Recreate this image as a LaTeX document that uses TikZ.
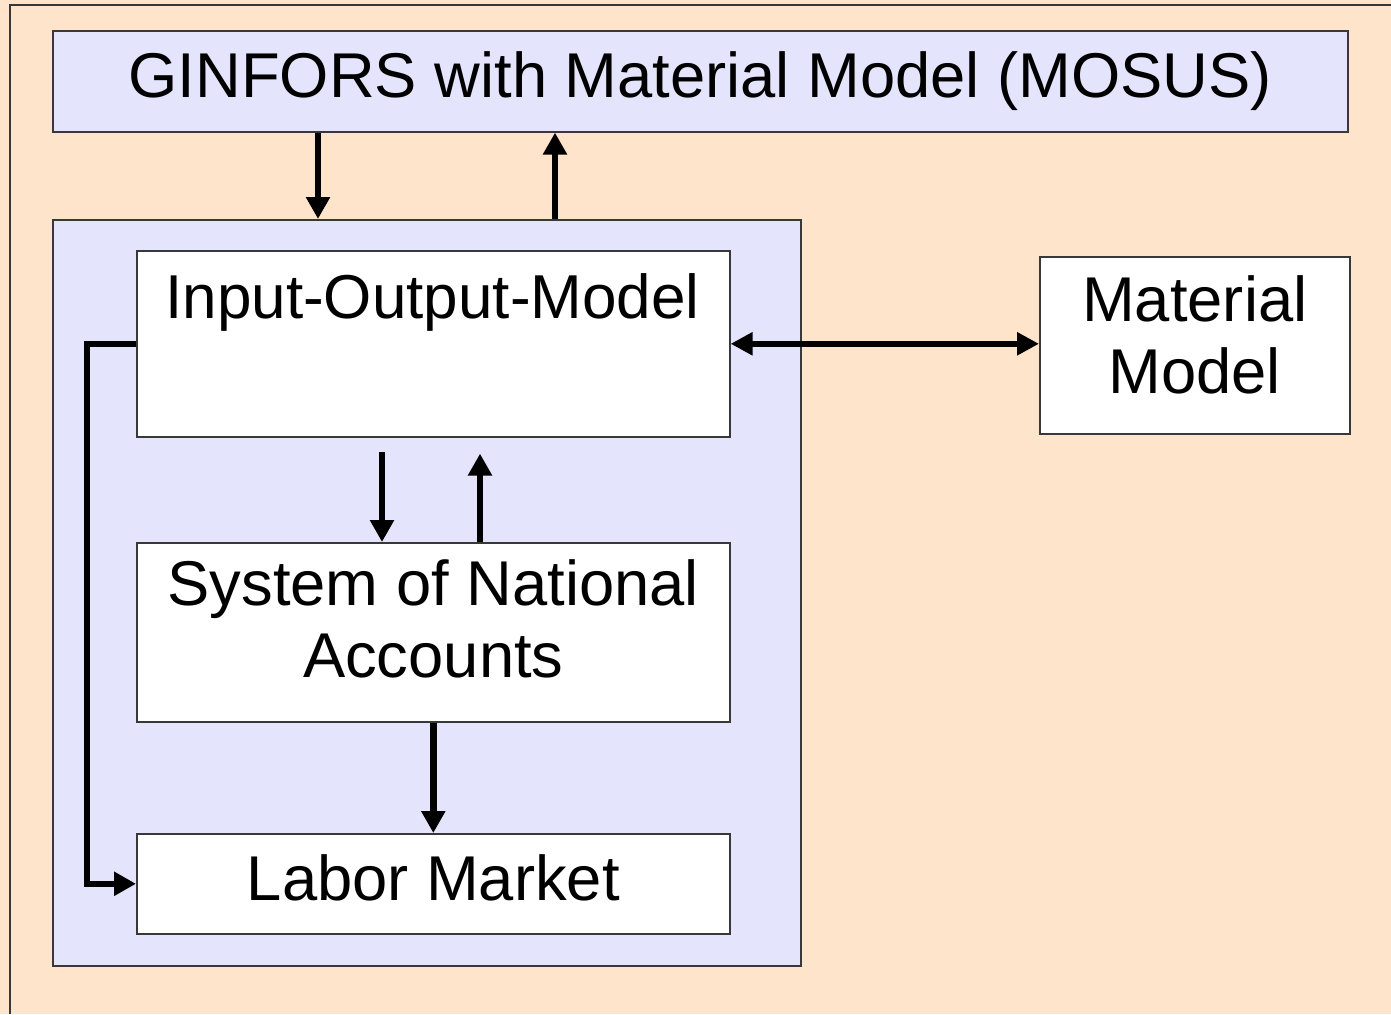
\documentclass[tikz,border=0pt]{standalone}
\usepackage{fontspec}
\setmainfont{Liberation Sans}
\usetikzlibrary{arrows.meta,positioning}
\definecolor{peach}{HTML}{FFE4CC}
\definecolor{lavender}{HTML}{E4E4FC}
\definecolor{edgegray}{HTML}{383838}
\tikzset{
  lbl/.style={font=\fontsize{63.3}{72}\selectfont},
  box/.style={lbl, draw=edgegray, line width=1.6pt, fill=white, anchor=north west, inner sep=0pt, align=center},
  arr/.style={line width=6.5pt, -{Triangle[width=23pt,length=22pt]}},
  biarr/.style={line width=6.5pt, {Triangle[width=22pt,length=22pt]}-{Triangle[width=22pt,length=22pt]}}
}

\begin{document}
\begin{tikzpicture}[x=1pt, y=-1pt]
  % Background
  \fill[peach] (0,0) rectangle (1391,1014);
  \useasboundingbox (0,0) rectangle (1391,1014);
  \draw[edgegray, line width=1.6pt] (10,1014) -- (10,5) -- (1391,5);

  % Define nodes
  \node[box, fill=lavender, minimum width=1295pt, minimum height=101pt] (ginfors) at (52,30) {GINFORS with Material Model (MOSUS)};
  \node[box, fill=lavender, minimum width=748pt, minimum height=746pt] (group) at (52,219) {};
  \node[box, minimum width=593pt, minimum height=186pt] (io) at (136,250) {};
  \node[lbl, font=\fontsize{62}{72}\selectfont, anchor=base] (iotext) at (432.5,318) {Input-Output-Model};
  \node[box, minimum width=593pt, minimum height=179pt, text depth=27pt] (sna) at (136,542) {System of National\\Accounts};
  \node[box, minimum width=593pt, minimum height=100pt, text depth=12pt] (labor) at (136,833) {Labor Market};
  \node[box, minimum width=310pt, minimum height=177pt, text depth=22pt] (mat) at (1039,256) {Material\\Model};

  % Connect nodes
  \draw[arr] (318,0 |- ginfors.south) -- (318,0 |- group.north);
  \draw[arr] (555,0 |- group.north) -- (555,0 |- ginfors.south);
  \draw[biarr] (io.east) -- (io.east -| mat.west);
  \draw[arr, shorten <=14pt] (382,0 |- io.south) -- (382,0 |- sna.north);
  \draw[arr, shorten >=16pt] (480,0 |- sna.north) -- (480,0 |- io.south);
  \draw[arr] (sna.south) -- (labor.north);
  \draw[arr] (io.west) -- ++(-49,0) |- (labor.west);
\end{tikzpicture}
\end{document}
